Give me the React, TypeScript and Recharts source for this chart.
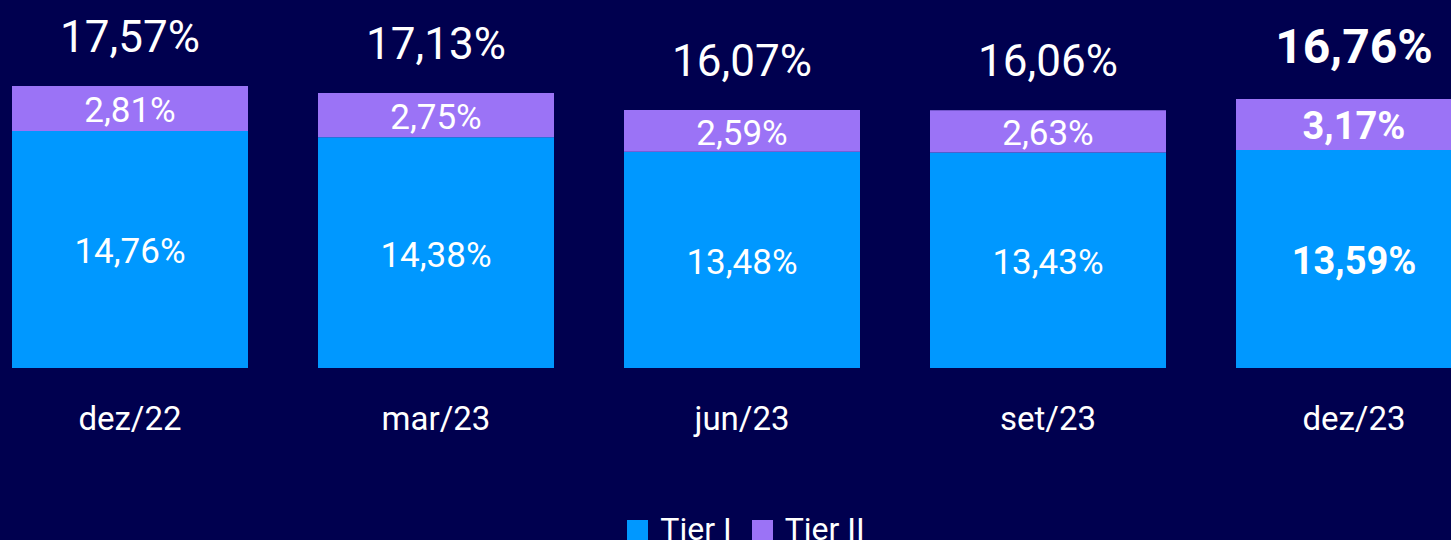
import { BarChart, Bar, XAxis, YAxis, Legend, LabelList } from 'recharts'

const periods = ['dez/22', 'mar/23', 'jun/23', 'set/23', 'dez/23']
const tier1 = [14.76, 14.38, 13.48, 13.43, 13.59]
const tier2 = [2.81, 2.75, 2.59, 2.63, 3.17]
const totals = [17.57, 17.13, 16.07, 16.06, 16.76]
const seriesNames = ['Tier I', 'Tier II']

const BG = '#00004f'
const BLUE = '#0098ff'
const PURPLE = '#9b73f6'
const FONT = 'Roboto, sans-serif'

const data = periods.map((period, i) => ({
  period,
  tier1: tier1[i],
  tier2: tier2[i],
  total: totals[i],
}))

const fmt = (v: number) => `${v.toFixed(2).replace('.', ',')}%`

// last period is highlighted in bold
const isLast = (index?: number) => index === periods.length - 1

function box(props: any) {
  const vb = props.viewBox ?? props
  return { x: Number(vb.x), y: Number(vb.y), width: Number(vb.width), height: Number(vb.height) }
}

function SegmentLabel(props: any) {
  const { x, y, width, height } = box(props)
  const bold = isLast(props.index)
  return (
    <text
      x={x + width / 2}
      y={y + height / 2 + 1.5}
      dy="0.355em"
      textAnchor="middle"
      fill="#fff"
      fontFamily={FONT}
      fontSize={bold ? 38 : 35}
      fontWeight={bold ? 700 : 400}
    >
      {fmt(Number(props.value))}
    </text>
  )
}

function TotalLabel(props: any) {
  const { x, y, width } = box(props)
  const bold = isLast(props.index)
  return (
    <text
      x={x + width / 2}
      y={y - (bold ? 36 : 34)}
      textAnchor="middle"
      fill="#fff"
      fontFamily={FONT}
      fontSize={bold ? 48 : 44}
      fontWeight={bold ? 700 : 400}
    >
      {fmt(Number(props.value))}
    </text>
  )
}

function PeriodTick(props: any) {
  const { x, y, payload } = props
  return (
    <text x={x} y={y + 62} textAnchor="middle" fill="#fff" fontFamily={FONT} fontSize={33}>
      {payload.value}
    </text>
  )
}

function TierLegend() {
  const colors = [BLUE, PURPLE]
  return (
    <div style={{ display: 'flex', justifyContent: 'center', alignItems: 'flex-start', gap: 20, paddingLeft: 8 }}>
      {seriesNames.map((name, i) => (
        <div key={name} style={{ display: 'flex', alignItems: 'flex-start' }}>
          <span style={{ width: 21, height: 21, marginTop: 7, marginRight: 12, background: colors[i] }} />
          <span style={{ color: '#fff', fontFamily: FONT, fontSize: 32, lineHeight: 1 }}>{name}</span>
        </div>
      ))}
    </div>
  )
}

export default function App() {
  return (
    <div
      style={{
        position: 'fixed',
        left: 0,
        top: 0,
        width: 1451,
        height: 540,
        overflow: 'hidden',
        background: BG,
      }}
    >
      <div style={{ position: 'absolute', left: -23, top: 0 }}>
        <BarChart
          width={1530}
          height={540}
          data={data}
          margin={{ top: 47, right: 0, bottom: 72, left: 0 }}
        >
          <XAxis
            dataKey="period"
            axisLine={false}
            tickLine={false}
            tickSize={0}
            tickMargin={0}
            height={100}
            interval={0}
            tick={<PeriodTick />}
          />
          <YAxis hide domain={[0, 20]} />
          <Legend
            verticalAlign="middle"
            layout="horizontal"
            align="center"
            content={<TierLegend />}
            wrapperStyle={{ top: 513, left: 0, width: 1530 }}
          />
          <Bar dataKey="tier1" stackId="a" fill={BLUE} barSize={236} isAnimationActive={false}>
            <LabelList dataKey="tier1" content={<SegmentLabel />} />
          </Bar>
          <Bar dataKey="tier2" stackId="a" fill={PURPLE} barSize={236} isAnimationActive={false}>
            <LabelList dataKey="tier2" content={<SegmentLabel />} />
            <LabelList dataKey="total" content={<TotalLabel />} />
          </Bar>
        </BarChart>
      </div>
    </div>
  )
}
